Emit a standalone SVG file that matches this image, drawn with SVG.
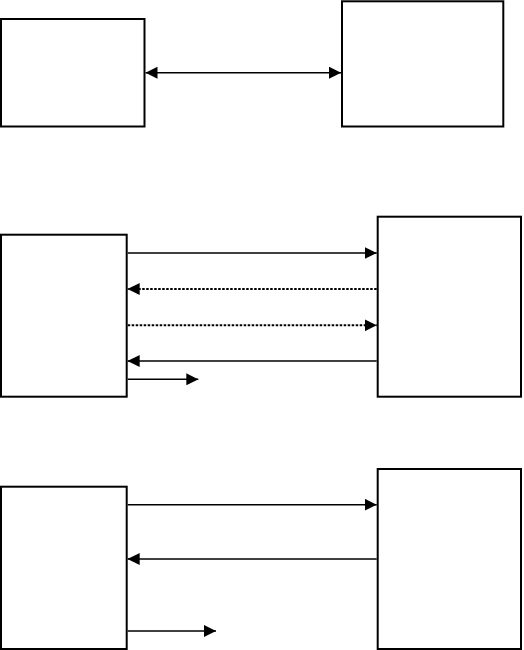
<svg xmlns="http://www.w3.org/2000/svg" width="524" height="650" viewBox="0 0 524 650">
<style>
.box{fill:#fff;stroke:#000;stroke-width:2}
.ln{stroke:#000;stroke-width:1.5;fill:none}
.dot{stroke:#000;stroke-width:2;fill:none;stroke-dasharray:2.5 1.5}
</style>
<defs>
<marker id="ah" viewBox="0 0 12 12" refX="12" refY="6" markerWidth="12" markerHeight="12" markerUnits="userSpaceOnUse" orient="auto-start-reverse">
<path d="M0,0 L12,6 L0,12 Z" fill="#000"/>
</marker>
</defs>
<rect width="524" height="650" fill="#fff"/>
<g id="n1"><rect class="box" x="1" y="19" width="143.5" height="107.5"/></g>
<g id="n2"><rect class="box" x="342" y="1.3" width="161.3" height="125.2"/></g>
<g id="n3"><rect class="box" x="1" y="234.7" width="125.7" height="162"/></g>
<g id="n4"><rect class="box" x="377.7" y="216.7" width="143.3" height="180"/></g>
<g id="n5"><rect class="box" x="1" y="486.7" width="125.7" height="162.3"/></g>
<g id="n6"><rect class="box" x="377.7" y="469" width="143.3" height="180"/></g>
<g id="connectors">
<line class="ln" x1="145.5" y1="72.7" x2="341" y2="72.7" marker-start="url(#ah)" marker-end="url(#ah)"/>
<line class="ln" x1="127.7" y1="253" x2="376.7" y2="253" marker-end="url(#ah)"/>
<line class="dot" x1="376.7" y1="289" x2="127.7" y2="289" marker-end="url(#ah)"/>
<line class="dot" x1="127.7" y1="325.3" x2="376.7" y2="325.3" marker-end="url(#ah)"/>
<line class="ln" x1="376.7" y1="361" x2="127.7" y2="361" marker-end="url(#ah)"/>
<line class="ln" x1="127.7" y1="379.3" x2="198.3" y2="379.3" marker-end="url(#ah)"/>
<line class="ln" x1="127.7" y1="504.7" x2="376.7" y2="504.7" marker-end="url(#ah)"/>
<line class="ln" x1="376.7" y1="559" x2="127.7" y2="559" marker-end="url(#ah)"/>
<line class="ln" x1="127.7" y1="631" x2="216" y2="631" marker-end="url(#ah)"/>
</g>
</svg>
